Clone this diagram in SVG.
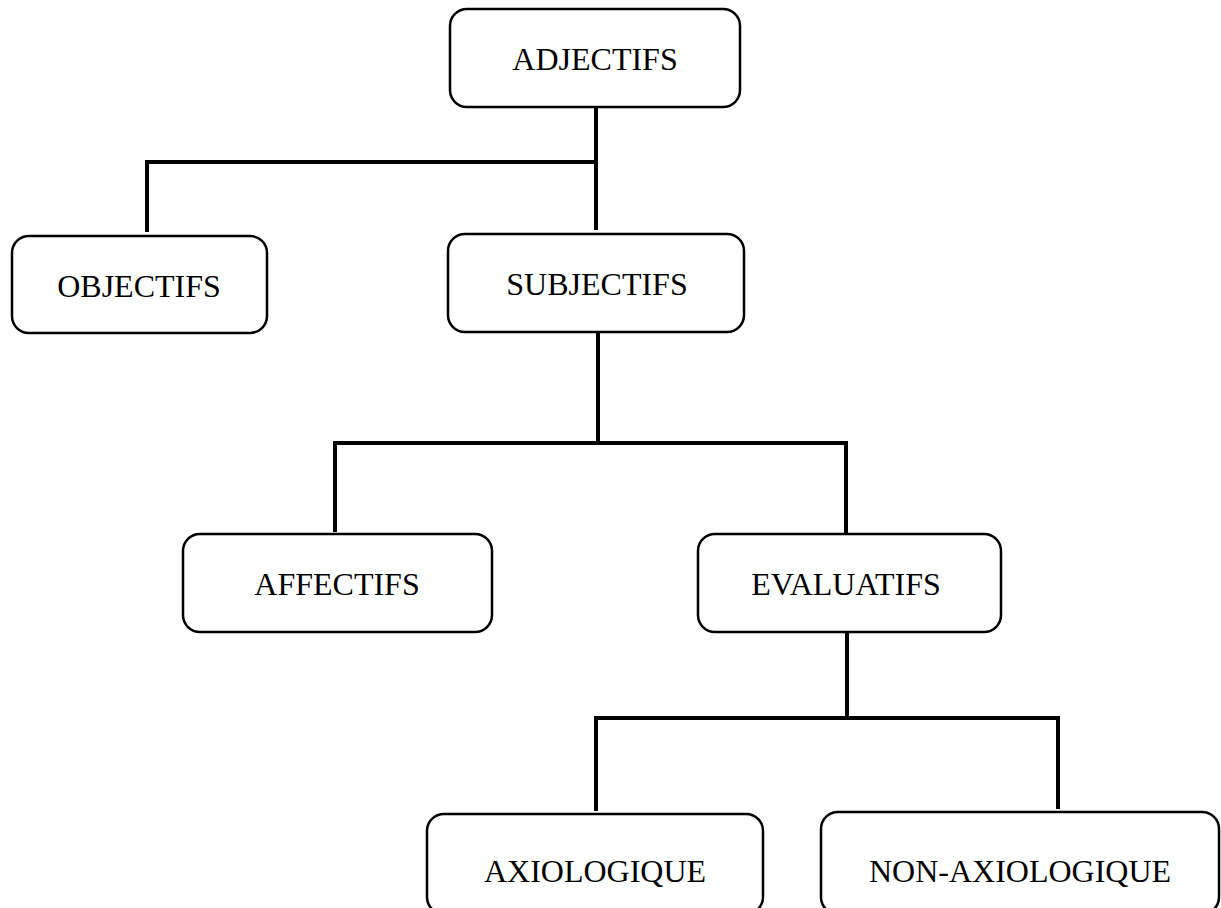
<svg xmlns="http://www.w3.org/2000/svg" width="1221" height="908" viewBox="0 0 1221 908">
<style>
.box{fill:#fff;stroke:#000;stroke-width:2.5}
.lbl{font-family:"Liberation Serif","Times New Roman",serif;font-size:32px;fill:#000;text-anchor:middle}
.conn{fill:none;stroke:#000;stroke-width:4;stroke-linecap:butt;stroke-linejoin:miter}
</style>
<rect width="1221" height="908" fill="#fff"/>
<g id="connectors">
<path class="conn" d="M596,107 V230"/>
<path class="conn" d="M596,162 H147 V232"/>
<path class="conn" d="M598,332 V443 M335,443 H846 M335,441 V532 M846,441 V534"/>
<path class="conn" d="M847,632 V718 M596,718 H1058 M596,716 V811 M1058,716 V809"/>
</g>
<g id="adjectifs"><rect class="box" x="450" y="9" width="290" height="98" rx="17"/><text class="lbl" x="595" y="70">ADJECTIFS</text></g>
<g id="objectifs"><rect class="box" x="12" y="236" width="255" height="97" rx="17"/><text class="lbl" x="139" y="297">OBJECTIFS</text></g>
<g id="subjectifs"><rect class="box" x="448" y="234" width="296" height="98" rx="17"/><text class="lbl" x="597" y="295">SUBJECTIFS</text></g>
<g id="affectifs"><rect class="box" x="183" y="534" width="309" height="98" rx="17"/><text class="lbl" x="337" y="595">AFFECTIFS</text></g>
<g id="evaluatifs"><rect class="box" x="698" y="534" width="303" height="98" rx="17"/><text class="lbl" x="846" y="595">EVALUATIFS</text></g>
<g id="axiologique"><rect class="box" x="427" y="814" width="336" height="100" rx="17"/><text class="lbl" x="595" y="882">AXIOLOGIQUE</text></g>
<g id="non-axiologique"><rect class="box" x="821" y="812" width="398" height="102" rx="17"/><text class="lbl" x="1020" y="882">NON-AXIOLOGIQUE</text></g>
</svg>
